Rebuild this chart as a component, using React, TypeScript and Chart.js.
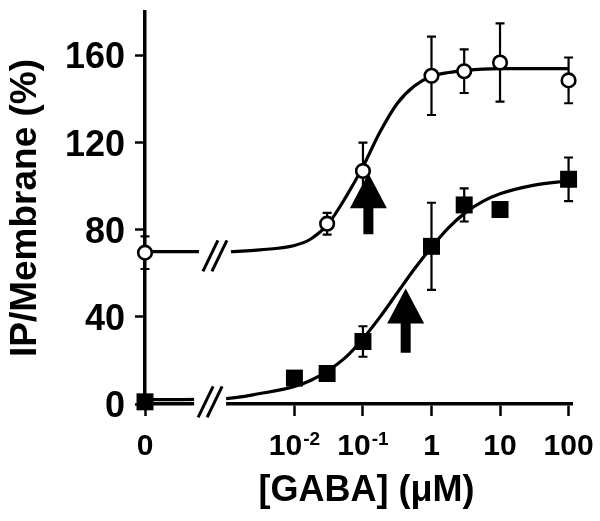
import { useEffect, useRef } from 'react';
import { Chart, registerables } from 'chart.js';

Chart.register(...registerables);

const FONT = '"Liberation Sans", Arial, Helvetica, sans-serif';

// Open circles (mean ± error), concentrations in µM
const CIRCLE_CONC = [0, 0.03, 0.1, 1, 3, 10, 100];
const CIRCLE_VALUES = [69.5, 82.8, 107, 150.7, 152.8, 156.8, 148.6];
const CIRCLE_ERRORS = [7.5, 5, 13, 18, 10, 18, 10.5];

// Filled squares (mean ± error)
const SQUARE_CONC = [0, 0.01, 0.03, 0.1, 1, 3, 10, 100];
const SQUARE_VALUES = [1, 11.9, 14, 28.7, 72.4, 91.4, 89.3, 103.2];
const SQUARE_ERRORS = [0, 0, 0, 7, 20, 7.6, 0, 10];

// Fitted curves
const FIT_CONC = [0, 0.001, 0.00316, 0.01, 0.0178, 0.0316, 0.0562, 0.1, 0.178, 0.316, 0.562, 1, 1.78, 3.16, 5.62, 10, 31.6, 100];
const CIRCLE_FIT = [70, 70, 70.8, 72.8, 76, 83, 95, 109, 125, 138, 146, 150.5, 152.2, 153.2, 153.8, 154, 154, 154];
const SQUARE_FIT = [2, 2.5, 4.8, 8, 11, 15.5, 21.5, 30, 40, 51, 62, 72, 81, 88, 93, 96.5, 100.5, 102.5];

// Arrows (EC50 markers)
const ARROW_CONC = [0.12, 0.42];
const ARROW_TIP = [106, 53];
const ARROW_TAIL = [78, 23.5];

// Axis break marks: x position (log10 µM) and level (%)
const BREAK_POS = [-3.16, -3.23];
const BREAK_LEVEL = [68, 1];

// Ticks
const Y_TICKS = [0, 40, 80, 120, 160];
const X_TICK_CONC = [0, 0.01, 0.1, 1, 10, 100];
const X_TICK_BASE = ['0', '10', '10', '1', '10', '100'];
const X_TICK_EXP = ['', '-2', '-1', '', '', ''];
const X_TITLE = '[GABA] (μM)';

const ZERO_POS = -4.18;
const X_MAX = 2.05;
const pos = (c: number) => (c === 0 ? ZERO_POS : Math.log10(c));

const errorArrowPlugin = {
  id: 'errorArrow',
  beforeDatasetDraw(chart: any, args: any) {
    const ds: any = chart.data.datasets[args.index];
    const { ctx } = chart;
    const x = chart.scales.x;
    const y = chart.scales.y;
    ctx.save();
    if (ds.drawArrows) {
      ctx.fillStyle = '#000';
      ARROW_CONC.forEach((c, i) => {
        const px = x.getPixelForValue(pos(c));
        const tip = y.getPixelForValue(ARROW_TIP[i]);
        const tail = y.getPixelForValue(ARROW_TAIL[i]);
        const headLen = 35;
        const headHalf = 18.5;
        const shaftHalf = 5;
        ctx.beginPath();
        ctx.moveTo(px, tip);
        ctx.lineTo(px + headHalf, tip + headLen);
        ctx.lineTo(px + shaftHalf, tip + headLen);
        ctx.lineTo(px + shaftHalf, tail);
        ctx.lineTo(px - shaftHalf, tail);
        ctx.lineTo(px - shaftHalf, tip + headLen);
        ctx.lineTo(px - headHalf, tip + headLen);
        ctx.closePath();
        ctx.fill();
      });
    }
    if (ds.errors) {
      ctx.strokeStyle = '#000';
      ctx.lineWidth = 2.2;
      ds.data.forEach((p: any, i: number) => {
        const e = ds.errors[i];
        if (!e) return;
        const px = x.getPixelForValue(p.x);
        const top = y.getPixelForValue(p.y + e);
        const bot = y.getPixelForValue(p.y - e);
        ctx.beginPath();
        ctx.moveTo(px, top);
        ctx.lineTo(px, bot);
        ctx.moveTo(px - 4.5, top);
        ctx.lineTo(px + 4.5, top);
        ctx.moveTo(px - 4.5, bot);
        ctx.lineTo(px + 4.5, bot);
        ctx.stroke();
      });
    }
    ctx.restore();
  },
  afterDatasetsDraw(chart: any) {
    const { ctx } = chart;
    const x = chart.scales.x;
    const y = chart.scales.y;
    ctx.save();
    BREAK_POS.forEach((b, i) => {
      const cx = x.getPixelForValue(b);
      const cy = y.getPixelForValue(BREAK_LEVEL[i]);
      ctx.fillStyle = '#fff';
      ctx.fillRect(cx - 16, cy - 8, 32, 16);
      ctx.strokeStyle = '#000';
      ctx.lineWidth = 3;
      [-4.5, 4.5].forEach((o) => {
        ctx.beginPath();
        ctx.moveTo(cx + o - 7.5, cy + 15.5);
        ctx.lineTo(cx + o + 7.5, cy - 15.5);
        ctx.stroke();
      });
    });
    ctx.restore();
  },
  afterDraw(chart: any) {
    const { ctx, chartArea } = chart;
    const x = chart.scales.x;
    ctx.save();
    ctx.fillStyle = '#000';
    ctx.textBaseline = 'alphabetic';
    const mainFont = `bold 30px ${FONT}`;
    const supFont = `bold 19px ${FONT}`;
    const baseY = 455;
    X_TICK_CONC.forEach((c, i) => {
      const px = x.getPixelForValue(pos(c));
      ctx.font = mainFont;
      const wb = ctx.measureText(X_TICK_BASE[i]).width;
      ctx.font = supFont;
      const we = X_TICK_EXP[i] ? ctx.measureText(X_TICK_EXP[i]).width + 1 : 0;
      const left = px - (wb + we) / 2;
      ctx.textAlign = 'left';
      ctx.font = mainFont;
      ctx.fillText(X_TICK_BASE[i], left, baseY);
      if (X_TICK_EXP[i]) {
        ctx.font = supFont;
        ctx.fillText(X_TICK_EXP[i], left + wb + 1, baseY - 10);
      }
    });
    // x-axis title, centred slightly right of the plot centre as in the figure
    ctx.font = `bold 36px ${FONT}`;
    ctx.textAlign = 'center';
    ctx.fillText(X_TITLE, (chartArea.left + chartArea.right) / 2 + 8, 501);
    ctx.restore();
  },
};

export default function App() {
  const ref = useRef<HTMLCanvasElement | null>(null);

  useEffect(() => {
    if (!ref.current) return;
    const chart = new Chart(ref.current, {
      type: 'scatter',
      data: {
        datasets: [
          {
            label: 'circles',
            data: CIRCLE_CONC.map((c, i) => ({ x: pos(c), y: CIRCLE_VALUES[i] })),
            errors: CIRCLE_ERRORS,
            drawArrows: true,
            pointStyle: 'circle',
            pointRadius: 6.8,
            pointBackgroundColor: '#fff',
            pointBorderColor: '#000',
            pointBorderWidth: 2.6,
            showLine: false,
            clip: false,
          } as any,
          {
            label: 'squares',
            data: SQUARE_CONC.map((c, i) => ({ x: pos(c), y: SQUARE_VALUES[i] })),
            errors: SQUARE_ERRORS,
            pointStyle: 'rect',
            pointRadius: 12,
            pointBackgroundColor: '#000',
            pointBorderColor: '#000',
            pointBorderWidth: 0,
            showLine: false,
            clip: false,
          } as any,
          {
            label: 'circle fit',
            data: FIT_CONC.map((c, i) => ({ x: pos(c), y: CIRCLE_FIT[i] })),
            showLine: true,
            borderColor: '#000',
            borderWidth: 3.2,
            pointRadius: 0,
            cubicInterpolationMode: 'monotone',
            clip: false,
          } as any,
          {
            label: 'square fit',
            data: FIT_CONC.map((c, i) => ({ x: pos(c), y: SQUARE_FIT[i] })),
            showLine: true,
            borderColor: '#000',
            borderWidth: 3.2,
            pointRadius: 0,
            cubicInterpolationMode: 'monotone',
            clip: false,
          } as any,
        ],
      },
      options: {
        responsive: false,
        animation: false,
        events: [],
        layout: { padding: { top: 10, right: 28, left: 0, bottom: 0 } },
        plugins: { legend: { display: false }, tooltip: { enabled: false } },
        scales: {
          x: {
            type: 'linear',
            min: ZERO_POS,
            max: X_MAX,
            afterFit: (s: any) => {
              s.height = 117;
              s.paddingLeft = 0;
              s.paddingRight = 0;
            },
            afterBuildTicks: (s: any) => {
              s.ticks = X_TICK_CONC.map((c) => ({ value: pos(c) }));
            },
            border: { display: true, color: '#000', width: 3.5 },
            grid: {
              display: true,
              drawOnChartArea: false,
              drawTicks: true,
              tickLength: 12,
              tickWidth: 2.5,
              tickColor: '#000',
              color: '#000',
            },
            ticks: { display: false, autoSkip: false },
            title: { display: false },
          },
          y: {
            type: 'linear',
            min: 0,
            max: 180,
            afterFit: (s: any) => {
              s.width = 145;
              s.paddingTop = 0;
              s.paddingBottom = 0;
            },
            afterBuildTicks: (s: any) => {
              s.ticks = Y_TICKS.map((v) => ({ value: v }));
            },
            border: { display: true, color: '#000', width: 3.5 },
            grid: {
              display: true,
              drawOnChartArea: false,
              drawTicks: true,
              tickLength: 10,
              tickWidth: 2.5,
              tickColor: '#000',
              color: '#000',
            },
            ticks: {
              color: '#000',
              padding: 10,
              autoSkip: false,
              labelOffset: 3,
              font: { family: FONT, size: 36, weight: 'bold' },
            },
            title: {
              display: true,
              text: 'IP/Membrane (%)',
              color: '#000',
              font: { family: FONT, size: 37, weight: 'bold' },
              padding: { top: 4, bottom: 0 },
            },
          },
        },
      } as any,
      plugins: [errorArrowPlugin as any],
    });
    return () => chart.destroy();
  }, []);

  return (
    <div style={{ position: 'absolute', left: 0, top: 0, width: 600, height: 521, background: '#fff' }}>
      <canvas ref={ref} width={600} height={521} style={{ display: 'block' }} />
    </div>
  );
}
